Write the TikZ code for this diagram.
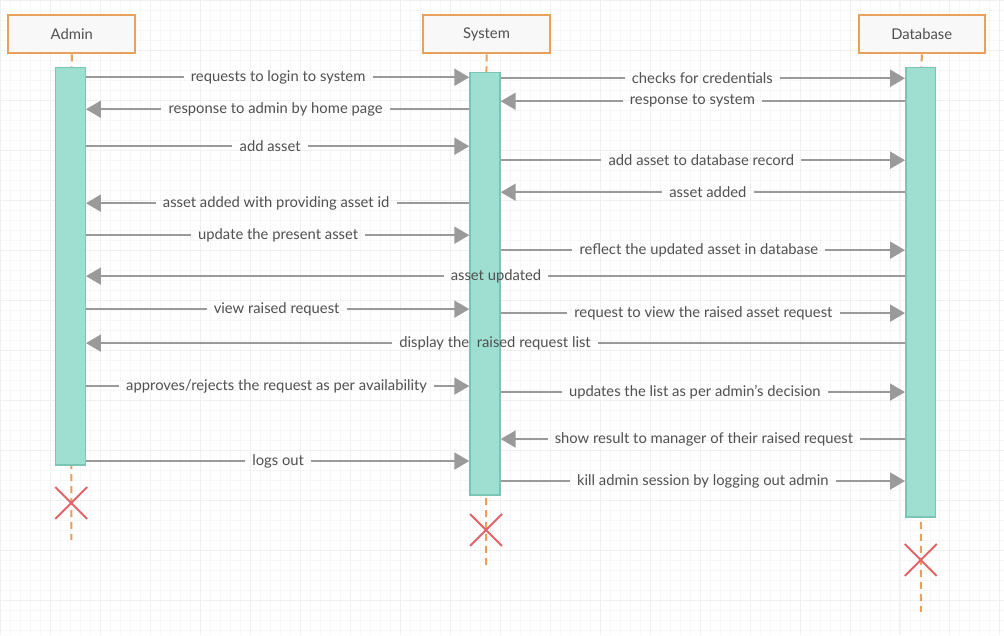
\documentclass[tikz,border=0pt]{standalone}
\usepackage{fontspec}
\setmainfont{Lato}
\usetikzlibrary{arrows.meta,shapes.misc}
\definecolor{headline}{HTML}{E8A15A}
\definecolor{headfill}{HTML}{F8F8F8}
\definecolor{barfill}{HTML}{9FDFD2}
\definecolor{barline}{HTML}{7CC4B4}
\definecolor{msgline}{HTML}{9A9A9A}
\definecolor{msgtext}{HTML}{505050}
\definecolor{killred}{HTML}{E0646A}
\begin{document}
\begin{tikzpicture}[
            x=1pt, y=-1pt,
            font=\fontsize{14.8}{17}\selectfont,
            head/.style={rectangle, draw=headline, fill=headfill, line width=2pt,
                minimum width=127pt, minimum height=38pt, text=msgtext},
            actbar/.style={rectangle, draw=barline, fill=barfill, line width=1.5pt,
                minimum width=30pt, inner sep=0pt},
            lifeline/.style={draw=headline, line width=2pt, dash pattern=on 7pt off 5pt},
            kill/.style={cross out, draw=killred, line width=2pt, minimum size=30pt, inner sep=0pt},
            msg/.style={text=msgtext, inner xsep=7pt, inner ysep=0pt},
            line/.style={draw=msgline, line width=2pt},
            arr/.style={line, -{Triangle[length=15pt, width=17pt]}}
        ]
        % background grid
        \fill[white] (0,0) rectangle (1004,635);
        \draw[gray!7, line width=0.5pt] (0,0) grid[step=10pt] (1004,635);
        \draw[gray!12, line width=0.6pt] (0,0) grid[step=50pt] (1004,635);
        \useasboundingbox (0,0) rectangle (1004,635);

        % participants
        \node[head] (admin) at (71.5,34) {Admin};
        \node[head] (system) at (486.5,34) {System};
        \node[head, minimum width=126pt] (database) at (922,34) {Database};

        % lifelines and ends
        \coordinate (admend) at (71,540);
        \coordinate (sysend) at (486,565);
        \coordinate (dbend) at (921,612);
        \draw[lifeline] (admin.south) -- (admend);
        \draw[lifeline] (system.south) -- (sysend);
        \draw[lifeline] (database.south) -- (dbend);
        \node[kill] (admx) at (71,503) {};
        \node[kill] (sysx) at (486,530) {};
        \node[kill] (dbx) at (921,560) {};

        % activation bars
        \node[actbar, minimum height=398pt] (admbar) at (70,266) {};
        \node[actbar, minimum height=423pt] (sysbar) at (485,283.5) {};
        \node[actbar, minimum height=450pt] (dbbar) at (921,292) {};

        % Admin <-> System
        \node[msg] (m1) at (278,77) {requests to login to system};
        \draw[line] (admbar.east |- m1) -- (m1.west);
        \draw[arr] (m1.east) -- (sysbar.west |- m1);

        \node[msg] (m2) at (275.5,109) {response to admin by home page};
        \draw[line] (sysbar.west |- m2) -- (m2.east);
        \draw[arr] (m2.west) -- (admbar.east |- m2);

        \node[msg] (m3) at (270,146) {add asset};
        \draw[line] (admbar.east |- m3) -- (m3.west);
        \draw[arr] (m3.east) -- (sysbar.west |- m3);

        \node[msg] (m4) at (276,203) {asset added with providing asset id};
        \draw[line] (sysbar.west |- m4) -- (m4.east);
        \draw[arr] (m4.west) -- (admbar.east |- m4);

        \node[msg] (m5) at (278,235) {update the present asset};
        \draw[line] (admbar.east |- m5) -- (m5.west);
        \draw[arr] (m5.east) -- (sysbar.west |- m5);

        \node[msg] (m6) at (496,276) {asset updated};
        \draw[line] (dbbar.west |- m6) -- (m6.east);
        \draw[arr] (m6.west) -- (admbar.east |- m6);

        \node[msg] (m7) at (276.5,309) {view raised request};
        \draw[line] (admbar.east |- m7) -- (m7.west);
        \draw[arr] (m7.east) -- (sysbar.west |- m7);

        \node[msg] (m8) at (495,343) {display the\ \ raised request list};
        \draw[line] (dbbar.west |- m8) -- (m8.east);
        \draw[arr] (m8.west) -- (admbar.east |- m8);

        \node[msg] (m9) at (276.5,386) {approves/rejects the request as per availability};
        \draw[line] (admbar.east |- m9) -- (m9.west);
        \draw[arr] (m9.east) -- (sysbar.west |- m9);

        \node[msg] (m10) at (278,461) {logs out};
        \draw[line] (admbar.east |- m10) -- (m10.west);
        \draw[arr] (m10.east) -- (sysbar.west |- m10);

        % System <-> Database
        \node[msg] (d1) at (702.5,78) {checks for credentials};
        \draw[line] (sysbar.east |- d1) -- (d1.west);
        \draw[arr] (d1.east) -- (dbbar.west |- d1);

        \node[msg] (d2) at (692.5,101) {response to system};
        \draw[line] (dbbar.west |- d2) -- (d2.east);
        \draw[arr] (d2.west) -- (sysbar.east |- d2);

        \node[msg] (d3) at (701.5,160) {add asset to database record};
        \draw[line] (sysbar.east |- d3) -- (d3.west);
        \draw[arr] (d3.east) -- (dbbar.west |- d3);

        \node[msg] (d4) at (708,192) {asset added};
        \draw[line] (dbbar.west |- d4) -- (d4.east);
        \draw[arr] (d4.west) -- (sysbar.east |- d4);

        \node[msg] (d5) at (699,250) {reflect the updated asset in database};
        \draw[line] (sysbar.east |- d5) -- (d5.west);
        \draw[arr] (d5.east) -- (dbbar.west |- d5);

        \node[msg] (d6) at (703.5,313) {request to view the raised asset request};
        \draw[line] (sysbar.east |- d6) -- (d6.west);
        \draw[arr] (d6.east) -- (dbbar.west |- d6);

        \node[msg] (d7) at (695,392) {updates the list as per admin's decision};
        \draw[line] (sysbar.east |- d7) -- (d7.west);
        \draw[arr] (d7.east) -- (dbbar.west |- d7);

        \node[msg] (d8) at (704,439) {show result to manager of their raised request};
        \draw[line] (dbbar.west |- d8) -- (d8.east);
        \draw[arr] (d8.west) -- (sysbar.east |- d8);

        \node[msg] (d9) at (703,481) {kill admin session by logging out admin};
        \draw[line] (sysbar.east |- d9) -- (d9.west);
        \draw[arr] (d9.east) -- (dbbar.west |- d9);
    \end{tikzpicture}
\end{document}
